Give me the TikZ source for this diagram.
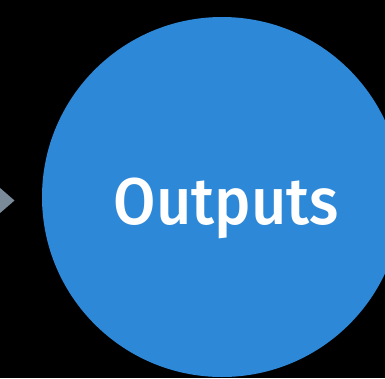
\documentclass[tikz,border=0pt]{standalone}
\usepackage{fontspec}
\setmainfont{Fira Sans}
\newfontfamily\medfont{Fira Sans}[UprightFont={* Medium}]
\definecolor{bg}{HTML}{000000}
\definecolor{circblue}{HTML}{2E88D8}
\definecolor{arrowgray}{HTML}{7B8A99}
\begin{document}
\begin{tikzpicture}[x=1pt,y=-1pt,
  bigcircle/.style={circle,fill=circblue,minimum size=360pt,inner sep=0pt},
  lbl/.style={text=white,font=\medfont\fontsize{66}{80}\selectfont,anchor=base,inner sep=0pt}]
\fill[bg] (0,0) rectangle (385,378);
\useasboundingbox (0,0) rectangle (385,378);
\begin{scope}
\clip (0,0) rectangle (385,378);
\node[bigcircle] (out) at (222,197) {};
\node[lbl,xscale=0.93] (label) at (226.5,224) {Outputs};
\coordinate (tip) at (14.5,200.5);
\fill[arrowgray] (tip) -- ++(-15,-13) -- ++(0,26) -- cycle;
\end{scope}
\end{tikzpicture}
\end{document}
